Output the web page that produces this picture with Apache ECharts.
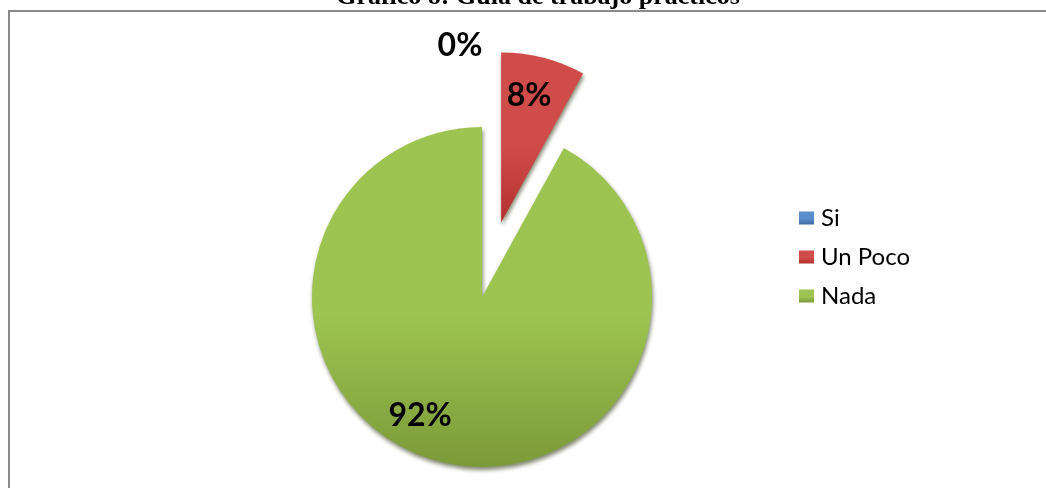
<!DOCTYPE html>
<html>
<head>
<meta charset="utf-8">
<style>
  html, body { margin: 0; padding: 0; background: #ffffff; }
  #chart { width: 1046px; height: 488px; }
</style>
<script src="https://cdn.jsdelivr.net/npm/echarts@6/dist/echarts.min.js"></script>
</head>
<body>
<div id="chart"></div>
<script>
// Survey answers and their shares (percent)
const categories = ['Si', 'Un Poco', 'Nada'];
const shares = [0, 8, 92];
const titleText = 'Gráfico 8: Guía de trabajo prácticos';

// Slice fills: top-to-bottom shading per answer
const fills = [
  ['#5b8ccb', '#3c6aa3'],
  ['#cf4c4a', '#b3302e'],
  ['#9dc450', '#7c9a39']
];

// Nudges that move each percentage label to its spot on the slice
const labelNudge = [
  { dx: -22, dy: -163 },
  { dx: 6, dy: -41 },
  { dx: -40, dy: 33 }
];

function grad(pair) {
  return new echarts.graphic.LinearGradient(0, 0, 0, 1, [
    { offset: 0, color: pair[0] },
    { offset: 0.55, color: pair[0] },
    { offset: 1, color: pair[1] }
  ]);
}

const chart = echarts.init(document.getElementById('chart'), null, { renderer: 'canvas' });

const pieData = categories.map((name, i) => ({
  name: name,
  value: shares[i],
  selected: name === 'Un Poco',
  itemStyle: { color: grad(fills[i]) }
}));

chart.setOption({
  animation: false,
  backgroundColor: '#ffffff',
  graphic: [
    {
      type: 'rect',
      z: -10,
      shape: { x: 9, y: 11, width: 1100, height: 600 },
      style: { fill: 'none', stroke: '#8a8a8a', lineWidth: 2 }
    },
    {
      type: 'text',
      z: 10,
      x: 538,
      y: -3,
      style: {
        text: titleText,
        font: 'bold 26px "Liberation Serif", "Times New Roman", serif',
        fill: '#000000',
        align: 'center',
        verticalAlign: 'middle'
      }
    }
  ],
  legend: {
    orient: 'vertical',
    left: 794,
    top: 201,
    itemWidth: 15,
    itemHeight: 13,
    itemGap: 15,
    icon: 'rect',
    selectedMode: false,
    data: categories,
    textStyle: {
      fontFamily: 'Lato, "Noto Sans", sans-serif',
      fontSize: 24,
      color: '#000000',
      padding: [0, 0, 0, 2]
    }
  },
  series: [{
    type: 'pie',
    center: [482, 297],
    radius: 170,
    startAngle: 90,
    clockwise: true,
    selectedMode: 'single',
    selectedOffset: 77,
    avoidLabelOverlap: false,
    minShowLabelAngle: 0,
    emphasis: { disabled: true },
    itemStyle: {
      borderWidth: 0,
      shadowColor: 'rgba(45, 55, 15, 0.6)',
      shadowBlur: 4,
      shadowOffsetX: 1,
      shadowOffsetY: 3
    },
    label: {
      show: true,
      position: 'inside',
      formatter: '{d}%',
      fontFamily: 'Lato, "Noto Sans", sans-serif',
      fontWeight: 'bold',
      fontSize: 32,
      color: '#000000'
    },
    labelLine: { show: false },
    labelLayout: function (params) {
      const n = labelNudge[params.dataIndex];
      return { dx: n.dx, dy: n.dy };
    },
    data: pieData
  }]
});
</script>
</body>
</html>
